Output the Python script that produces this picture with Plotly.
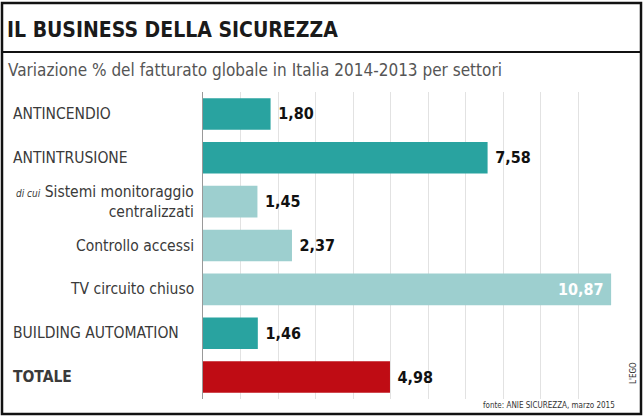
import plotly.graph_objects as go

# Variazione % del fatturato 2014-2013 per settore
settori = ["ANTINCENDIO", "ANTINTRUSIONE", "Sistemi monitoraggio centralizzati",
           "Controllo accessi", "TV circuito chiuso", "BUILDING AUTOMATION", "TOTALE"]
variazione = [1.80, 7.58, 1.45, 2.37, 10.87, 1.46, 4.98]

titolo = "IL BUSINESS DELLA SICUREZZA"
sottotitolo = "Variazione % del fatturato globale in Italia 2014-2013 per settori"
fonte = "fonte: ANIE SICUREZZA, marzo 2015"
firma = "L'EGO"

W, H = 644, 416
FONT = "DejaVu Sans Condensed, Liberation Sans Narrow, sans-serif"


def px_x(p):
    return p / W


def px_y(p):
    return 1 - p / H


def colore(s):
    if s == "TOTALE":
        return "#bf0c14"
    if s.isupper():
        return "#29a3a0"
    return "#9dcfcf"


colori = [colore(s) for s in settori]
dentro = [v > 10 for v in variazione]

fig = go.Figure()
fig.add_trace(go.Bar(
    x=variazione, y=settori, orientation="h",
    marker=dict(color=colori, line=dict(width=0)),
    width=0.72,
    texttemplate=["<b>%{x:.2f}</b> " if d else " <b>%{x:.2f}</b>" for d in dentro],
    textposition=["inside" if d else "outside" for d in dentro],
    insidetextanchor="end",
    textfont=dict(family=FONT, size=16,
                  color=["white" if d else "#111" for d in dentro]),
    cliponaxis=False,
    hoverinfo="skip",
))

# etichette delle categorie
for s in settori:
    if s == "TOTALE":
        testo, x, anc = "<b>TOTALE</b>", px_x(11), "left"
    elif s.isupper():
        testo, x, anc = s, px_x(11), "left"
    elif s.startswith("Sistemi"):
        testo = ("<i><span style='font-size:10px'>di cui</span></i> "
                 "Sistemi monitoraggio<br>centralizzati")
        x, anc = px_x(196), "right"
    else:
        testo, x, anc = s, px_x(196), "right"
    fig.add_annotation(x=x, y=s, xref="paper", yref="y", text=testo,
                       showarrow=False, xanchor=anc, yanchor="middle",
                       align="right", font=dict(family=FONT, size=15.5, color="#3a3a3a"))

fig.add_annotation(x=px_x(5), y=px_y(30), xref="paper", yref="paper", text="<b>" + titolo + "</b>",
                   showarrow=False, xanchor="left", yanchor="middle",
                   font=dict(family=FONT, size=21, color="#1a1a1a"))
fig.add_annotation(x=px_x(6), y=px_y(70), xref="paper", yref="paper", text=sottotitolo,
                   showarrow=False, xanchor="left", yanchor="middle",
                   font=dict(family=FONT, size=17, color="#555"))
fig.add_annotation(x=px_x(617), y=px_y(405), xref="paper", yref="paper", text=fonte,
                   showarrow=False, xanchor="right", yanchor="middle",
                   font=dict(family=FONT, size=8, color="#333"))
fig.add_annotation(x=px_x(633), y=px_y(373), xref="paper", yref="paper", text=firma,
                   showarrow=False, textangle=-90, xanchor="center", yanchor="middle",
                   font=dict(family=FONT, size=8, color="#333"))

# cornice e linea sotto il titolo
fig.add_shape(type="rect", xref="paper", yref="paper", x0=px_x(2), x1=px_x(641),
              y0=px_y(414), y1=px_y(3), line=dict(color="#111", width=2.5))
fig.add_shape(type="line", xref="paper", yref="paper", x0=px_x(2), x1=px_x(641),
              y0=px_y(52), y1=px_y(52), line=dict(color="#111", width=2))

fig.update_layout(
    width=W, height=H,
    margin=dict(l=0, r=0, t=0, b=0),
    paper_bgcolor="white", plot_bgcolor="white",
    separators=",.",
    showlegend=False,
    xaxis=dict(domain=[px_x(203), px_x(616)], range=[0, 11], dtick=1,
               showgrid=True, gridcolor="#e2e2e2", gridwidth=1,
               showticklabels=False, zeroline=False, ticks="", fixedrange=True),
    yaxis=dict(domain=[px_y(399), px_y(92)], autorange="reversed",
               showticklabels=False, showgrid=False, showline=True,
               linecolor="#999", linewidth=1, ticks="", fixedrange=True),
)

# niente margine della pagina, la figura riempie la finestra
fig.write_html("out.html", config={"displayModeBar": False},
               post_script="document.body.style.margin='0';")
